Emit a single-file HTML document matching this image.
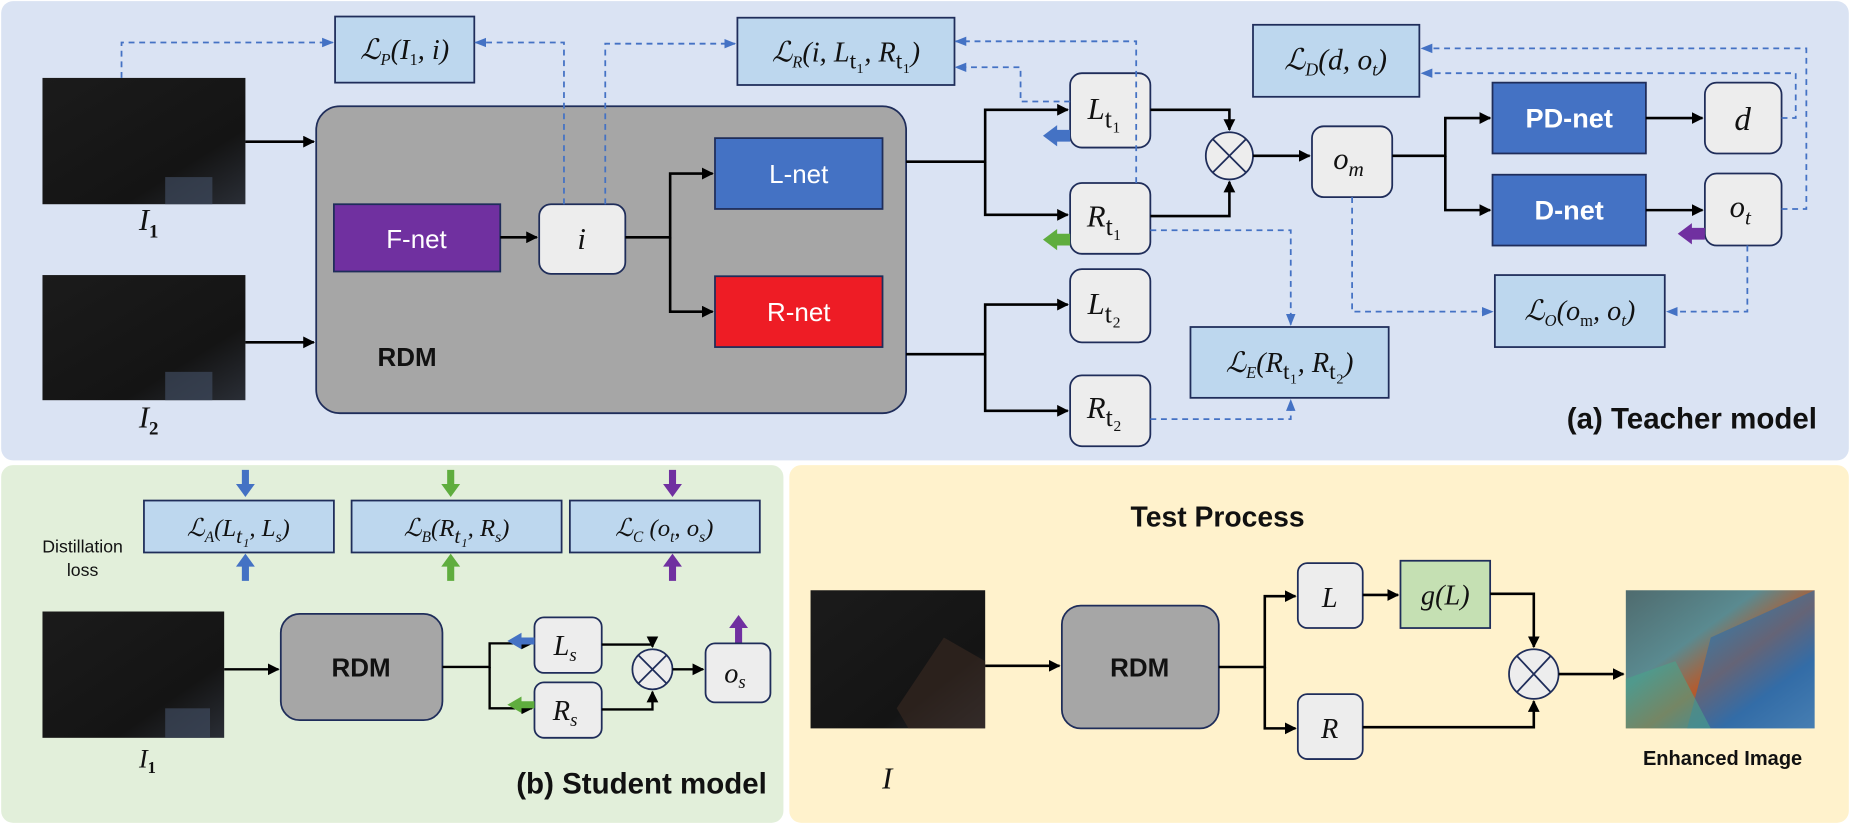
<!DOCTYPE html>
<html><head><meta charset="utf-8"><style>
html,body{margin:0;padding:0;background:#fff;}
svg{display:block}
.m{font-family:"Liberation Serif","DejaVu Serif",serif;font-style:italic;fill:#111}
.s{font-family:"Liberation Sans","DejaVu Sans",sans-serif;}
</style></head><body>
<svg width="1850" height="824" viewBox="0 0 1568 698" preserveAspectRatio="none" xmlns="http://www.w3.org/2000/svg">
<defs>
<marker id="a" markerWidth="10" markerHeight="10" refX="9" refY="5" orient="auto" markerUnits="userSpaceOnUse"><path d="M0,0 L10,5 L0,10 z" fill="#000"/></marker>
<marker id="b" markerWidth="10" markerHeight="10" refX="9" refY="5" orient="auto" markerUnits="userSpaceOnUse"><path d="M0,1 L10,5 L0,9 z" fill="#4472c4"/></marker>
<linearGradient id="dk" x1="0" y1="0" x2="1" y2="1"><stop offset="0" stop-color="#1b1b1b"/><stop offset="0.7" stop-color="#141414"/><stop offset="1" stop-color="#2a2e36"/></linearGradient>
<linearGradient id="en" x1="0" y1="0" x2="1" y2="1"><stop offset="0" stop-color="#4f6b6e"/><stop offset="0.35" stop-color="#5a8a90"/><stop offset="0.55" stop-color="#b65a2c"/><stop offset="0.75" stop-color="#3a6fa5"/><stop offset="1" stop-color="#6a9bc0"/></linearGradient>
</defs>
<rect x="1" y="1" width="1566" height="389" rx="10" fill="#dae3f3"/>
<rect x="1" y="394" width="663" height="303" rx="10" fill="#e2efda"/>
<rect x="669" y="394" width="898" height="303" rx="10" fill="#fff2cc"/>

<g fill="#bdd7ee" stroke="#1f2d5a" stroke-width="1.5">
<rect x="284" y="14" width="118" height="56"/>
<rect x="625" y="15" width="184" height="57"/>
<rect x="1062" y="21" width="141" height="61"/>
<rect x="1267" y="233" width="144" height="61"/>
<rect x="1009" y="277" width="168" height="60"/>
</g>
<text class="m" x="343" y="50" font-size="24" text-anchor="middle">ℒ<tspan font-size="14" dy="5">P</tspan><tspan dy="-5">(I</tspan><tspan font-size="14" dy="5" font-style="normal">1</tspan><tspan dy="-5">, i)</tspan></text>
<text class="m" x="717" y="52" font-size="24" text-anchor="middle">ℒ<tspan font-size="14" dy="5">R</tspan><tspan dy="-5">(i, L</tspan><tspan font-size="20" dy="6" font-style="normal">t₁</tspan><tspan dy="-6">, R</tspan><tspan font-size="20" dy="6" font-style="normal">t₁</tspan><tspan dy="-6">)</tspan></text>
<text class="m" x="1132" y="59" font-size="25" text-anchor="middle">ℒ<tspan font-size="15" dy="5">D</tspan><tspan dy="-5">(d, o</tspan><tspan font-size="15" dy="5">t</tspan><tspan dy="-5">)</tspan></text>
<text class="m" x="1339" y="271" font-size="24" text-anchor="middle">ℒ<tspan font-size="14" dy="5">O</tspan><tspan dy="-5">(o</tspan><tspan font-size="14" dy="5" font-style="normal">m</tspan><tspan dy="-5">, o</tspan><tspan font-size="14" dy="5">t</tspan><tspan dy="-5">)</tspan></text>
<text class="m" x="1093" y="315" font-size="24" text-anchor="middle">ℒ<tspan font-size="14" dy="5">E</tspan><tspan dy="-5">(R</tspan><tspan font-size="20" dy="6" font-style="normal">t₁</tspan><tspan dy="-6">, R</tspan><tspan font-size="20" dy="6" font-style="normal">t₂</tspan><tspan dy="-6">)</tspan></text>

<rect x="36" y="66" width="172" height="107" fill="url(#dk)"/>
<rect x="140" y="150" width="40" height="23" fill="#3f4a5e" opacity="0.7"/>
<rect x="36" y="233" width="172" height="106" fill="url(#dk)"/>
<rect x="140" y="315" width="40" height="24" fill="#3f4a5e" opacity="0.7"/>
<text class="m" x="126" y="195" font-size="26" text-anchor="middle">I<tspan font-size="16" dy="6" font-style="normal" font-weight="bold">1</tspan></text>
<text class="m" x="126" y="362" font-size="26" text-anchor="middle">I<tspan font-size="16" dy="6" font-style="normal" font-weight="bold">2</tspan></text>

<rect x="268" y="90" width="500" height="260" rx="20" fill="#a6a6a6" stroke="#1f2d5a" stroke-width="1.5"/>
<text class="s" x="320" y="310" font-size="22" font-weight="bold" fill="#111">RDM</text>
<rect x="283" y="173" width="141" height="57" fill="#7030a0" stroke="#1f2d5a" stroke-width="1.5"/>
<text class="s" x="353" y="210" font-size="22" fill="#fff" text-anchor="middle">F-net</text>
<rect x="606" y="117" width="142" height="60" fill="#4472c4" stroke="#1f2d5a" stroke-width="1.5"/>
<text class="s" x="677" y="155" font-size="22" fill="#fff" text-anchor="middle">L-net</text>
<rect x="606" y="234" width="142" height="60" fill="#ee1c25" stroke="#1f2d5a" stroke-width="1.5"/>
<text class="s" x="677" y="272" font-size="22" fill="#fff" text-anchor="middle">R-net</text>

<g fill="#ededed" stroke="#1f2d5a" stroke-width="1.5">
<rect x="457" y="173" width="73" height="59" rx="10"/>
<rect x="907" y="62" width="68" height="63" rx="10"/>
<rect x="907" y="155" width="68" height="60" rx="10"/>
<rect x="907" y="228" width="68" height="62" rx="10"/>
<rect x="907" y="318" width="68" height="60" rx="10"/>
<rect x="1112" y="107" width="68" height="60" rx="10"/>
<rect x="1445" y="70" width="65" height="60" rx="10"/>
<rect x="1445" y="147" width="65" height="61" rx="10"/>
<circle cx="1042" cy="132" r="20"/>
</g>
<g stroke="#1f2d5a" stroke-width="1.5"><path d="M1028,118 L1056,146 M1056,118 L1028,146"/></g>
<text class="m" x="493" y="211" font-size="26" text-anchor="middle">i</text>
<text class="m" x="936" y="101" font-size="26" text-anchor="middle">L<tspan font-size="22" dy="7" font-style="normal">t₁</tspan></text>
<text class="m" x="936" y="192" font-size="26" text-anchor="middle">R<tspan font-size="22" dy="7" font-style="normal">t₁</tspan></text>
<text class="m" x="936" y="266" font-size="26" text-anchor="middle">L<tspan font-size="22" dy="7" font-style="normal">t₂</tspan></text>
<text class="m" x="936" y="354" font-size="26" text-anchor="middle">R<tspan font-size="22" dy="7" font-style="normal">t₂</tspan></text>
<text class="m" x="1143" y="143" font-size="26" text-anchor="middle">o<tspan font-size="18" dy="6">m</tspan></text>
<text class="m" x="1477" y="110" font-size="28" text-anchor="middle">d</text>
<text class="m" x="1475" y="184" font-size="26" text-anchor="middle">o<tspan font-size="18" dy="6">t</tspan></text>

<rect x="1265" y="70" width="130" height="60" fill="#4472c4" stroke="#1f2d5a" stroke-width="1.5"/>
<text class="s" x="1330" y="108" font-size="23" font-weight="bold" fill="#fff" text-anchor="middle">PD-net</text>
<rect x="1265" y="148" width="130" height="60" fill="#4472c4" stroke="#1f2d5a" stroke-width="1.5"/>
<text class="s" x="1330" y="186" font-size="23" font-weight="bold" fill="#fff" text-anchor="middle">D-net</text>

<g fill="none" stroke="#000" stroke-width="2.2">
<path d="M208,120 H266" marker-end="url(#a)"/>
<path d="M208,290 H266" marker-end="url(#a)"/>
<path d="M424,201 H455" marker-end="url(#a)"/>
<path d="M530,201 H568 V147 H604" marker-end="url(#a)"/>
<path d="M568,201 V264 H604" marker-end="url(#a)"/>
<path d="M768,137 H835 V93 H905" marker-end="url(#a)"/>
<path d="M835,137 V182 H905" marker-end="url(#a)"/>
<path d="M768,300 H835 V258 H905" marker-end="url(#a)"/>
<path d="M835,300 V348 H905" marker-end="url(#a)"/>
<path d="M975,93 H1042 V110" marker-end="url(#a)"/>
<path d="M975,183 H1042 V154" marker-end="url(#a)"/>
<path d="M1062,132 H1110" marker-end="url(#a)"/>
<path d="M1180,132 H1225 V100 H1263" marker-end="url(#a)"/>
<path d="M1225,132 V178 H1263" marker-end="url(#a)"/>
<path d="M1395,100 H1443" marker-end="url(#a)"/>
<path d="M1395,178 H1443" marker-end="url(#a)"/>
</g>
<path d="M907,110 H896 V106 L884,115 L896,124 V120 H907 Z" fill="#4472c4"/>
<path d="M907,198 H896 V194 L884,203 L896,212 V208 H907 Z" fill="#5fad3e"/>
<path d="M1445,193 H1434 V189 L1422,198 L1434,207 V203 H1445 Z" fill="#7030a0"/>
<text class="s" x="1540" y="363" font-size="25" font-weight="bold" fill="#111" text-anchor="end">(a) Teacher model</text>

<text class="s" x="70" y="468" font-size="15" fill="#111" text-anchor="middle">Distillation</text>
<text class="s" x="70" y="488" font-size="15" fill="#111" text-anchor="middle">loss</text>
<g fill="#bdd7ee" stroke="#1f2d5a" stroke-width="1.5">
<rect x="122" y="424" width="161" height="44"/>
<rect x="298" y="424" width="178" height="44"/>
<rect x="483" y="424" width="161" height="44"/>
</g>
<text class="m" x="202" y="454" font-size="21" text-anchor="middle">ℒ<tspan font-size="13" dy="5">A</tspan><tspan dy="-5">(L</tspan><tspan font-size="18" dy="6">t₁</tspan><tspan dy="-6">, L</tspan><tspan font-size="13" dy="5">s</tspan><tspan dy="-5">)</tspan></text>
<text class="m" x="387" y="454" font-size="21" text-anchor="middle">ℒ<tspan font-size="13" dy="5">B</tspan><tspan dy="-5">(R</tspan><tspan font-size="18" dy="6">t₁</tspan><tspan dy="-6">, R</tspan><tspan font-size="13" dy="5">s</tspan><tspan dy="-5">)</tspan></text>
<text class="m" x="563" y="454" font-size="21" text-anchor="middle">ℒ<tspan font-size="13" dy="5">C</tspan><tspan dy="-5"> (o</tspan><tspan font-size="13" dy="5">t</tspan><tspan dy="-5">, o</tspan><tspan font-size="13" dy="5">s</tspan><tspan dy="-5">)</tspan></text>
<g>
<path d="M205,398 V410 H200 L208,421 L216,410 H211 V398 Z" fill="#4472c4"/>
<path d="M205,492 V480 H200 L208,469 L216,480 H211 V492 Z" fill="#4472c4"/>
<path d="M379,398 V410 H374 L382,421 L390,410 H385 V398 Z" fill="#5fad3e"/>
<path d="M379,492 V480 H374 L382,469 L390,480 H385 V492 Z" fill="#5fad3e"/>
<path d="M567,398 V410 H562 L570,421 L578,410 H573 V398 Z" fill="#7030a0"/>
<path d="M567,492 V480 H562 L570,469 L578,480 H573 V492 Z" fill="#7030a0"/>
<path d="M623,545 V532 H618 L626,521 L634,532 H629 V545 Z" fill="#7030a0"/>
</g>
<rect x="36" y="518" width="154" height="107" fill="url(#dk)"/>
<rect x="140" y="600" width="38" height="25" fill="#3f4a5e" opacity="0.7"/>
<text class="m" x="125" y="650" font-size="22" text-anchor="middle">I<tspan font-size="14" dy="5" font-style="normal" font-weight="bold">1</tspan></text>
<rect x="238" y="520" width="137" height="90" rx="16" fill="#a6a6a6" stroke="#1f2d5a" stroke-width="1.5"/>
<text class="s" x="306" y="573" font-size="22" font-weight="bold" fill="#111" text-anchor="middle">RDM</text>
<g fill="#ededed" stroke="#1f2d5a" stroke-width="1.5">
<rect x="453" y="523" width="57" height="47" rx="8"/>
<rect x="453" y="578" width="57" height="47" rx="8"/>
<rect x="598" y="545" width="55" height="50" rx="8"/>
<circle cx="553" cy="567" r="17"/>
</g>
<g stroke="#1f2d5a" stroke-width="1.5"><path d="M541,555 L565,579 M565,555 L541,579"/></g>
<text class="m" x="479" y="555" font-size="24" text-anchor="middle">L<tspan font-size="16" dy="5">s</tspan></text>
<text class="m" x="479" y="610" font-size="24" text-anchor="middle">R<tspan font-size="16" dy="5">s</tspan></text>
<text class="m" x="623" y="578" font-size="24" text-anchor="middle">o<tspan font-size="16" dy="5">s</tspan></text>
<g fill="none" stroke="#000" stroke-width="2">
<path d="M190,567 H236" marker-end="url(#a)"/>
<path d="M375,565 H415 V545 H451" marker-end="url(#a)"/>
<path d="M415,565 V600 H451" marker-end="url(#a)"/>
<path d="M510,546 H553 V548" marker-end="url(#a)"/>
<path d="M510,601 H553 V586" marker-end="url(#a)"/>
<path d="M570,567 H596" marker-end="url(#a)"/>
</g>
<path d="M453,540 H442 V536 L430,543 L442,550 V546 H453 Z" fill="#4472c4"/>
<path d="M453,594 H442 V590 L430,597 L442,604 V600 H453 Z" fill="#5fad3e"/>
<text class="s" x="650" y="672" font-size="25" font-weight="bold" fill="#111" text-anchor="end">(b) Student model</text>

<text class="s" x="1032" y="446" font-size="24" font-weight="bold" fill="#111" text-anchor="middle">Test Process</text>
<rect x="687" y="500" width="148" height="117" fill="url(#dk)"/>
<path d="M760,600 L800,540 L835,560 L835,617 L770,617 Z" fill="#3a2a22" opacity="0.6"/>
<text class="m" x="752" y="668" font-size="26" text-anchor="middle">I</text>
<rect x="900" y="513" width="133" height="104" rx="16" fill="#a6a6a6" stroke="#1f2d5a" stroke-width="1.5"/>
<text class="s" x="966" y="573" font-size="22" font-weight="bold" fill="#111" text-anchor="middle">RDM</text>
<g fill="#ededed" stroke="#1f2d5a" stroke-width="1.5">
<rect x="1100" y="477" width="55" height="55" rx="8"/>
<rect x="1100" y="588" width="55" height="55" rx="8"/>
<circle cx="1300" cy="571" r="21"/>
</g>
<g stroke="#1f2d5a" stroke-width="1.5"><path d="M1286,556 L1314,586 M1314,556 L1286,586"/></g>
<rect x="1187" y="475" width="76" height="57" fill="#c5e0b3" stroke="#1f2d5a" stroke-width="1.5"/>
<text class="m" x="1127" y="514" font-size="24" text-anchor="middle">L</text>
<text class="m" x="1127" y="625" font-size="24" text-anchor="middle">R</text>
<text class="m" x="1225" y="512" font-size="24" text-anchor="middle">g(L)</text>
<g fill="none" stroke="#000" stroke-width="2.2">
<path d="M835,564 H898" marker-end="url(#a)"/>
<path d="M1033,565 H1072 V505 H1098" marker-end="url(#a)"/>
<path d="M1072,565 V617 H1098" marker-end="url(#a)"/>
<path d="M1155,504 H1185" marker-end="url(#a)"/>
<path d="M1263,503 H1300 V548" marker-end="url(#a)"/>
<path d="M1155,616 H1300 V594" marker-end="url(#a)"/>
<path d="M1321,571 H1376" marker-end="url(#a)"/>
</g>
<rect x="1378" y="500" width="160" height="117" fill="url(#en)"/>
<path d="M1430,617 L1450,540 L1538,500 L1538,617 Z" fill="#2f6aa8" opacity="0.6"/>
<path d="M1378,575 L1420,560 L1450,617 L1378,617 Z" fill="#4aa38a" opacity="0.6"/>
<text class="s" x="1460" y="648" font-size="17" font-weight="bold" fill="#111" text-anchor="middle">Enhanced Image</text>

<g fill="none" stroke="#4472c4" stroke-width="1.5" stroke-dasharray="5,4">
<path d="M103,66 V36 H282" marker-end="url(#b)"/>
<path d="M478,173 V36 H403" marker-end="url(#b)"/>
<path d="M513,173 V37 H623" marker-end="url(#b)"/>
<path d="M963,155 V35 H810" marker-end="url(#b)"/>
<path d="M907,86 H865 V57 H810" marker-end="url(#b)"/>
<path d="M975,195 H1094 V275" marker-end="url(#b)"/>
<path d="M975,355 H1094 V339" marker-end="url(#b)"/>
<path d="M1146,167 V264 H1265" marker-end="url(#b)"/>
<path d="M1481,208 V264 H1413" marker-end="url(#b)"/>
<path d="M1510,100 H1522 V62 H1205" marker-end="url(#b)"/>
<path d="M1510,177 H1531 V41 H1205" marker-end="url(#b)"/>
</g>
</svg>
</body></html>
